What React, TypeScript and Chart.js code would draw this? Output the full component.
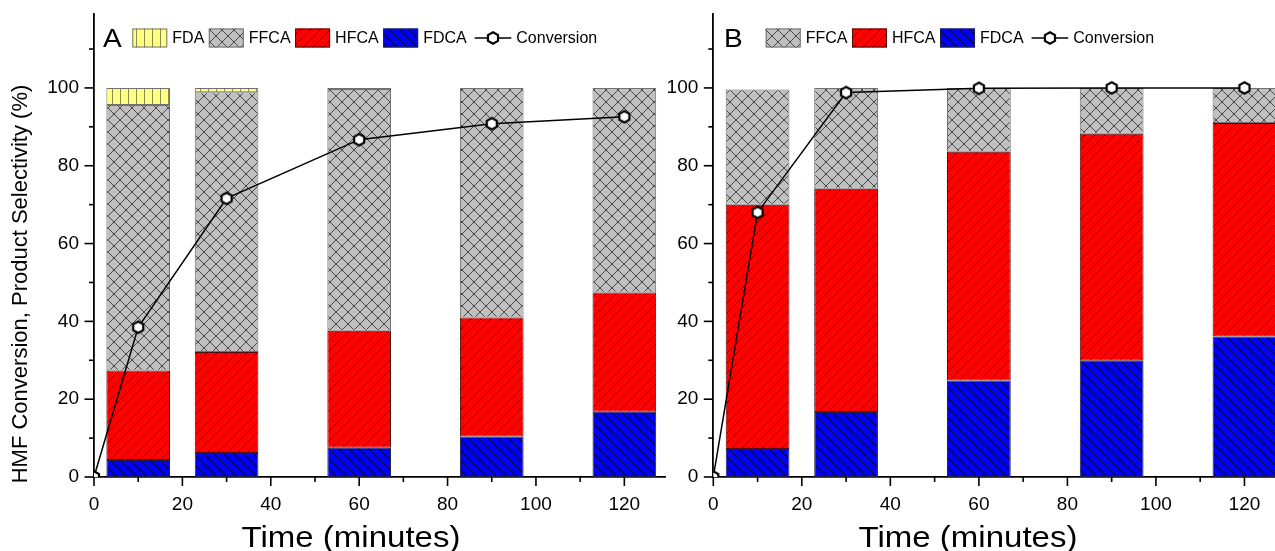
import React, { useEffect, useRef } from 'react';
import { Chart, registerables } from 'chart.js';

Chart.register(...registerables);

// ---------------- data ----------------
const barTimes = [10, 30, 60, 90, 120];
const convTimes = [0, 10, 30, 60, 90, 120];
const xTicks = [0, 20, 40, 60, 80, 100, 120];
const xMinorTicks = [10, 30, 50, 70, 90, 110];
const yTicks = [0, 20, 40, 60, 80, 100];
const yMinorTicks = [10, 30, 50, 70, 90, 110];

// Panel A (selectivity %, stacked from bottom: FDCA, HFCA, FFCA, FDA)
const fdcaA = [4.4, 6.2, 7.5, 10.4, 16.8];
const hfcaA = [23.0, 25.9, 30.1, 30.6, 30.6];
const ffcaA = [68.2, 66.8, 62.1, 59.0, 52.6];
const fdaA = [4.4, 1.1, 0.3, 0, 0];
const convA = [0, 38.5, 71.6, 86.7, 90.8, 92.6];

// Panel B
const fdcaB = [7.2, 16.7, 24.8, 29.9, 36.1];
const hfcaB = [62.8, 57.4, 58.8, 58.3, 54.9];
const ffcaB = [29.6, 25.9, 16.4, 11.8, 9.0];
const convB = [0, 68.0, 98.8, 99.9, 100, 100];

const legendA = ['FDA', 'FFCA', 'HFCA', 'FDCA'];
const legendB = ['FFCA', 'HFCA', 'FDCA'];
const lineName = 'Conversion';
const xTitle = 'Time (minutes)';
const yTitle = 'HMF Conversion, Product Selectivity (%)';

// ---------------- styling helpers ----------------
const FONT = '"Liberation Sans", Arial, Helvetica, sans-serif';
const H = 551;

type Kind = 'vert' | 'cross' | 'fwd' | 'back';
const patternSpec: Record<string, { bg: string; kind: Kind; size: number; line: string; border: string }> = {
  FDA: { bg: '#FFFF80', kind: 'vert', size: 8, line: '#7a7a55', border: '#707070' },
  FFCA: { bg: '#C0C0C0', kind: 'cross', size: 12, line: '#3a3a3a', border: '#707070' },
  HFCA: { bg: '#FF0000', kind: 'fwd', size: 10, line: '#1a0000', border: '#4a1010' },
  FDCA: { bg: '#0000FF', kind: 'back', size: 10, line: '#000020', border: '#202040' },
};

function makePattern(ctx: CanvasRenderingContext2D, name: string) {
  const s = patternSpec[name];
  const c = document.createElement('canvas');
  c.width = s.size;
  c.height = s.size;
  const g = c.getContext('2d')!;
  g.fillStyle = s.bg;
  g.fillRect(0, 0, s.size, s.size);
  g.strokeStyle = s.line;
  g.lineWidth = 0.9;
  g.beginPath();
  const n = s.size;
  if (s.kind === 'vert') {
    g.moveTo(0.5, 0);
    g.lineTo(0.5, n);
  }
  if (s.kind === 'fwd' || s.kind === 'cross') {
    for (const k of [-1, 0, 1]) {
      g.moveTo(k * n, n);
      g.lineTo(k * n + n, 0);
    }
  }
  if (s.kind === 'back' || s.kind === 'cross') {
    for (const k of [-1, 0, 1]) {
      g.moveTo(k * n, 0);
      g.lineTo(k * n + n, n);
    }
  }
  g.stroke();
  return ctx.createPattern(c, 'repeat')!;
}

function makeHexagon() {
  const c = document.createElement('canvas');
  c.width = 18;
  c.height = 18;
  const g = c.getContext('2d')!;
  const r = 5.8;
  g.beginPath();
  for (let i = 0; i < 6; i++) {
    const a = ((-90 + 60 * i) * Math.PI) / 180;
    const px = 9 + r * Math.cos(a);
    const py = 9 + r * Math.sin(a);
    if (i === 0) g.moveTo(px, py);
    else g.lineTo(px, py);
  }
  g.closePath();
  g.fillStyle = '#fff';
  g.fill();
  g.lineWidth = 2.2;
  g.strokeStyle = '#000';
  g.stroke();
  return c;
}

interface PanelCfg {
  id: string;
  letter: string;
  left: number;
  width: number;
  yWidth: number;
  padRight: number;
  xMax: number;
  bars: { name: string; data: number[] }[];
  conv: number[];
  legend: string[];
  letterX: number;
  legendX: number;
  xTitleX: number;
  showYTitle: boolean;
}

const panelA: PanelCfg = {
  id: 'A',
  letter: 'A',
  left: 0,
  width: 668,
  yWidth: 94,
  padRight: 3,
  xMax: 129.2,
  bars: [
    { name: 'FDCA', data: fdcaA },
    { name: 'HFCA', data: hfcaA },
    { name: 'FFCA', data: ffcaA },
    { name: 'FDA', data: fdaA },
  ],
  conv: convA,
  legend: legendA,
  letterX: 103,
  legendX: 132.3,
  xTitleX: 351,
  showYTitle: true,
};

const panelB: PanelCfg = {
  id: 'B',
  letter: 'B',
  left: 640,
  width: 635,
  yWidth: 73.3,
  padRight: 0,
  xMax: 126.9,
  bars: [
    { name: 'FDCA', data: fdcaB },
    { name: 'HFCA', data: hfcaB },
    { name: 'FFCA', data: ffcaB },
  ],
  conv: convB,
  legend: legendB,
  letterX: 84,
  legendX: 125.7,
  xTitleX: 328,
  showYTitle: false,
};

function zeroPad(s: any) {
  s.paddingLeft = 0;
  s.paddingRight = 0;
  s.paddingTop = 0;
  s.paddingBottom = 0;
}

function buildChart(canvas: HTMLCanvasElement, cfg: PanelCfg) {
  const ctx = canvas.getContext('2d')!;
  const patterns: Record<string, CanvasPattern> = {};
  Object.keys(patternSpec).forEach((k) => (patterns[k] = makePattern(ctx, k)));
  const hex = makeHexagon();

  const decor = {
    id: 'decor' + cfg.id,
    afterDraw(chart: any) {
      const c: CanvasRenderingContext2D = chart.ctx;
      const ca = chart.chartArea;
      const xs = chart.scales.x;
      const ys = chart.scales.y;
      c.save();
      c.strokeStyle = '#000';
      c.lineWidth = 1.6;
      const seg = (x1: number, y1: number, x2: number, y2: number) => {
        c.beginPath();
        c.moveTo(x1, y1);
        c.lineTo(x2, y2);
        c.stroke();
      };
      xTicks.forEach((v) => {
        const p = xs.getPixelForValue(v);
        seg(p, ca.bottom, p, ca.bottom + 9);
      });
      xMinorTicks.forEach((v) => {
        const p = xs.getPixelForValue(v);
        if (p <= ca.right) seg(p, ca.bottom, p, ca.bottom + 5);
      });
      yTicks.forEach((v) => {
        const p = ys.getPixelForValue(v);
        seg(ca.left - 9.5, p, ca.left, p);
      });
      yMinorTicks.forEach((v) => {
        const p = ys.getPixelForValue(v);
        seg(ca.left - 5, p, ca.left, p);
      });

      // panel letter
      c.fillStyle = '#000';
      c.textBaseline = 'middle';
      c.textAlign = 'left';
      c.save();
      c.translate(cfg.letterX, 40);
      c.scale(1.12, 1);
      c.font = `25px ${FONT}`;
      c.fillText(cfg.letter, 0, 0);
      c.restore();

      // legend
      const boxW = 35;
      const boxH = 19;
      const boxTop = 28.5;
      const midY = boxTop + boxH / 2;
      c.font = `16px ${FONT}`;
      let x = cfg.legendX;
      cfg.legend.forEach((name) => {
        c.fillStyle = patterns[name];
        c.fillRect(x, boxTop, boxW, boxH);
        c.lineWidth = 1;
        c.strokeStyle = patternSpec[name].border;
        c.strokeRect(x + 0.5, boxTop + 0.5, boxW - 1, boxH - 1);
        x += boxW + 5;
        c.fillStyle = '#000';
        c.fillText(name, x, midY + 0.5);
        x += c.measureText(name).width + 4.5;
      });
      x += 3.5;
      c.strokeStyle = '#000';
      c.lineWidth = 1.5;
      seg(x, midY, x + 36.6, midY);
      c.drawImage(hex, x + 18.3 - hex.width / 2, midY - hex.height / 2);
      x += 36.6 + 5;
      c.fillStyle = '#000';
      c.fillText(lineName, x, midY + 0.5);

      // axis titles
      c.save();
      c.translate(cfg.xTitleX, 539);
      c.scale(1.1, 1);
      c.font = `30px ${FONT}`;
      c.textAlign = 'center';
      c.textBaseline = 'middle';
      c.fillText(xTitle, 0, 0);
      c.restore();
      if (cfg.showYTitle) {
        c.save();
        c.translate(21, 284);
        c.rotate(-Math.PI / 2);
        c.font = `22px ${FONT}`;
        c.textAlign = 'center';
        c.textBaseline = 'middle';
        c.fillText(yTitle, 0, 0);
        c.restore();
      }
      c.restore();
    },
  };

  const datasets: any[] = cfg.bars.map((b) => ({
    type: 'bar',
    label: b.name,
    data: barTimes.map((t, i) => ({ x: t, y: b.data[i] })),
    backgroundColor: patterns[b.name],
    borderColor: patternSpec[b.name].border,
    borderWidth: 1,
    borderSkipped: false,
    stack: 'sel',
    order: 1,
    categoryPercentage: 1,
    barPercentage: 0.72,
  }));
  datasets.push({
    type: 'line',
    label: lineName,
    data: convTimes.map((t, i) => ({ x: t, y: cfg.conv[i] })),
    borderColor: '#000',
    borderWidth: 1.5,
    tension: 0,
    pointStyle: hex,
    pointRadius: 6,
    order: 0,
  });

  return new Chart(canvas, {
    type: 'bar',
    data: { datasets },
    plugins: [decor],
    options: {
      responsive: false,
      maintainAspectRatio: false,
      animation: false,
      devicePixelRatio: 1,
      events: [],
      layout: { autoPadding: false, padding: { top: 14, right: cfg.padRight, bottom: 0, left: 0 } },
      plugins: { legend: { display: false }, tooltip: { enabled: false }, title: { display: false } },
      scales: {
        x: {
          type: 'linear',
          min: 0,
          max: cfg.xMax,
          offset: false,
          stacked: true,
          grid: { display: false, drawTicks: false, offset: false },
          border: { display: true, color: '#000', width: 1.8 },
          ticks: {
            color: '#000',
            font: { size: 19, family: FONT },
            padding: 16,
            maxRotation: 0,
            autoSkip: false,
          },
          afterBuildTicks: (s: any) => {
            s.ticks = xTicks.map((v) => ({ value: v }));
          },
          afterFit: (s: any) => {
            s.height = 74;
            zeroPad(s);
          },
        },
        y: {
          type: 'linear',
          min: 0,
          max: 119,
          stacked: true,
          grid: { display: false, drawTicks: false },
          border: { display: true, color: '#000', width: 1.8 },
          ticks: {
            color: '#000',
            font: { size: 19, family: FONT },
            padding: 15,
            autoSkip: false,
          },
          afterBuildTicks: (s: any) => {
            s.ticks = yTicks.map((v) => ({ value: v }));
          },
          afterFit: (s: any) => {
            s.width = cfg.yWidth;
            zeroPad(s);
          },
        },
      },
    } as any,
  });
}

function Panel({ cfg }: { cfg: PanelCfg }) {
  const ref = useRef<HTMLCanvasElement>(null);
  useEffect(() => {
    const chart = buildChart(ref.current!, cfg);
    return () => chart.destroy();
  }, [cfg]);
  return (
    <canvas
      ref={ref}
      width={cfg.width}
      height={H}
      style={{ position: 'absolute', left: cfg.left, top: 0, width: cfg.width, height: H }}
    />
  );
}

export default function App() {
  return (
    <div
      style={{
        position: 'fixed',
        left: 0,
        top: 0,
        width: 1275,
        height: H,
        background: '#fff',
        overflow: 'hidden',
      }}
    >
      <Panel cfg={panelA} />
      <Panel cfg={panelB} />
    </div>
  );
}
